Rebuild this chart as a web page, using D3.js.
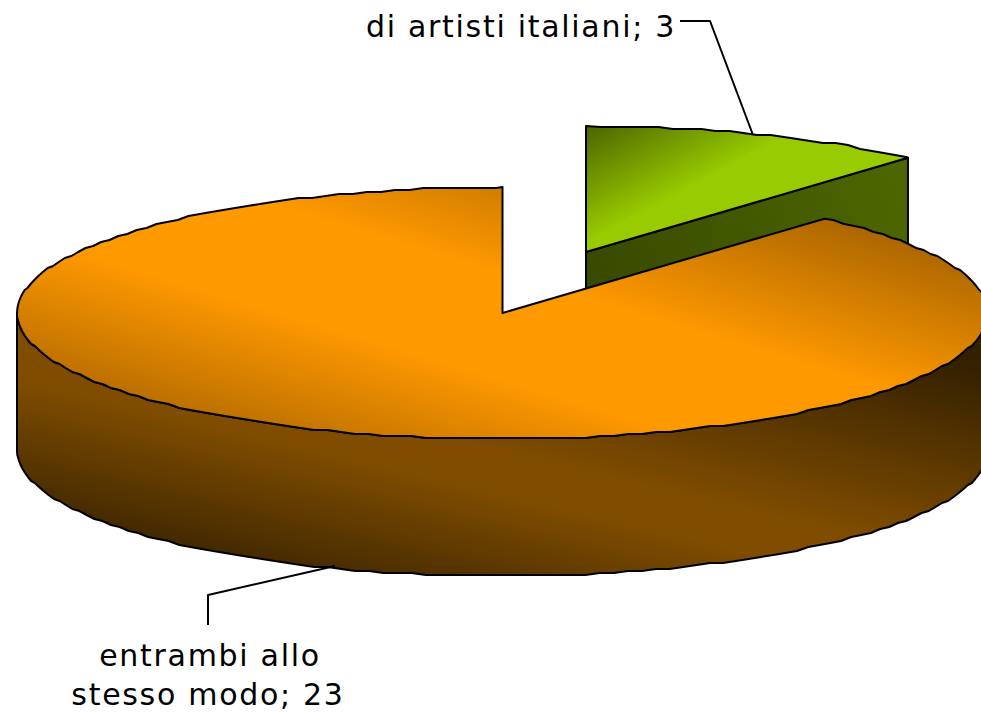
<!DOCTYPE html>
<html>
<head>
<meta charset="utf-8">
<script src="https://cdn.jsdelivr.net/npm/d3@7"></script>
<style>
  html, body { margin: 0; padding: 0; background: #fff; overflow: hidden; }
  svg { display: block; }
  text { font-family: "DejaVu Sans", sans-serif; font-size: 30px; fill: #000; letter-spacing: 1.7px; }
</style>
</head>
<body>
<script>
// values
const categories = ["di artisti italiani", "entrambi allo stesso modo"];
const values = [3, 23];

const width = 981, height = 713;
const depth = 137;      // height of the cylinder
const grid = 2;         // the original outline is stair stepped
const step = 0.03;      // radians between rim points
const explode = {dx: 83.5, dy: -61};

const svg = d3.select("body").append("svg")
    .attr("width", width)
    .attr("height", height);

const xscale = d3.scaleLinear().domain([-1, 1]).range([17, 988]);
const yscale = d3.scaleLinear().domain([-1, 1]).range([187, 439]);

const pie = d3.pie().value(d => d).sort(null);
const slices = pie(values);

const line = d3.line();
const snap = v => Math.round(v / grid) * grid;

// points of the rim between two angles, clockwise from the top
function rim(a0, a1, off) {
    const angles = [a0];
    for (let k = Math.floor(a0 / step) + 1; k * step < a1; k++) angles.push(k * step);
    angles.push(a1);
    return angles.map((a, i) => {
        const px = xscale(Math.sin(a)) + off.dx;
        const py = yscale(-Math.cos(a));
        const edge = i === 0 || i === angles.length - 1;
        return [px, (edge ? py : snap(py)) + off.dy];
    });
}

function gradient(id, p, stops) {
    const g = defs.append("linearGradient")
        .attr("id", id)
        .attr("gradientUnits", "userSpaceOnUse")
        .attr("x1", p[0]).attr("y1", p[1])
        .attr("x2", p[2]).attr("y2", p[3]);
    stops.forEach(s => g.append("stop").attr("offset", s[0]).attr("stop-color", s[1]));
}

const defs = svg.append("defs");
gradient("orangeTop", [552, 80, 408, 560],
    [[0, "#8f5500"], [0.4, "#ff9900"], [0.6, "#ff9900"], [1, "#8f5500"]]);
gradient("orangeSide", [555, 265, 465, 645],
    [[0, "#332000"], [0.5, "#804d00"], [0.6, "#804d00"], [1, "#332000"]]);
gradient("greenTop", [592, 125, 640, 215],
    [[0, "#4d6600"], [1, "#99cc00"]]);
gradient("greenSide", [600, 290, 900, 190],
    [[0, "#384a00"], [1, "#4d6600"]]);

const style = sel => sel.attr("stroke", "#000").attr("stroke-width", 2).attr("stroke-linejoin", "round");

// small slice first, the big one sits in front of it
const green = slices[0], orange = slices[1];
const cg = [xscale(0) + explode.dx, yscale(0) + explode.dy];
const ge = rim(green.startAngle, green.endAngle, explode).pop();

svg.append("path")
    .attr("d", line([cg, ge, [ge[0], ge[1] + depth], [cg[0], cg[1] + depth]]) + "Z")
    .attr("fill", "url(#greenSide)")
    .call(style);

svg.append("path")
    .attr("d", line([cg].concat(rim(green.startAngle, green.endAngle, explode))) + "Z")
    .attr("fill", "url(#greenTop)")
    .call(style);

// front wall of the big slice
const noOff = {dx: 0, dy: 0};
const frontTop = rim(Math.PI / 2, 3 * Math.PI / 2, noOff);
const frontBottom = frontTop.map(d => [d[0], d[1] + depth]).reverse();
svg.append("path")
    .attr("d", line(frontTop.concat(frontBottom)) + "Z")
    .attr("fill", "url(#orangeSide)")
    .call(style);

svg.append("path")
    .attr("d", line([[xscale(0), yscale(0)]].concat(rim(orange.startAngle, orange.endAngle, noOff))) + "Z")
    .attr("fill", "url(#orangeTop)")
    .call(style);

// leader lines
svg.append("path")
    .attr("d", line([[680, 21], [710, 21], [753, 135]]))
    .attr("fill", "none")
    .call(style);
svg.append("path")
    .attr("d", line([[208, 625], [208, 595], [335, 566]]))
    .attr("fill", "none")
    .call(style);

// labels
svg.append("text")
    .attr("x", 676).attr("y", 37)
    .attr("text-anchor", "end")
    .text(categories[0] + "; " + values[0]);

const lab = svg.append("text").attr("text-anchor", "middle");
lab.append("tspan").attr("x", 210).attr("y", 666).text("entrambi allo");
lab.append("tspan").attr("x", 208).attr("y", 705).text("stesso modo; " + values[1]);
</script>
</body>
</html>
